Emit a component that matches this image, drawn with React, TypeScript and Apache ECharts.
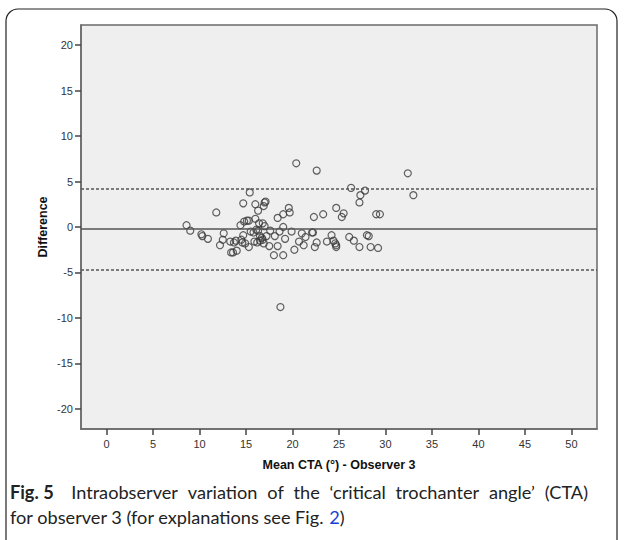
import React, { useEffect, useRef } from "react";
import * as echarts from "echarts";

// Mean CTA (°) for observer 3 (x) and difference between readings (y)
const meanCTA = [
  8.6, 9.0, 10.2, 10.3, 10.9, 11.8, 12.2, 12.5, 12.6, 13.3, 13.4, 13.6, 13.7, 13.9, 14.0,
  14.4, 14.5, 14.6, 14.7, 14.7, 14.8, 14.9, 15.1, 15.3, 15.3, 15.4, 15.5, 15.8, 15.9, 16.0,
  16.0, 16.1, 16.2, 16.3, 16.3, 16.4, 16.5, 16.5, 16.7, 16.8, 16.8, 16.9, 16.9, 17.0, 17.1,
  17.0, 17.2, 17.5, 17.6, 18.0, 18.1, 18.4, 18.4, 18.6, 18.7, 19.0, 19.0, 19.0, 19.2, 19.6,
  19.7, 19.9, 20.2, 20.4, 20.7, 21.0, 21.2, 21.4, 22.1, 22.2, 22.3, 22.4, 22.6, 22.6, 23.3,
  23.7, 24.2, 24.4, 24.6, 24.7, 24.7, 24.7, 25.3, 25.5, 26.1, 26.3, 26.6, 27.2, 27.2, 27.3,
  27.8, 28.0, 28.2, 28.4, 29.0, 29.2, 29.4, 32.4, 33.0,
];
const difference = [
  0.2, -0.4, -0.8, -1.0, -1.3, 1.6, -2.0, -1.4, -0.7, -1.6, -2.8, -2.8, -1.7, -1.5, -2.6,
  0.2, -1.4, -1.7, 2.6, -0.9, 0.6, -1.8, 0.7, 0.7, -2.2, 3.8, -0.5, -0.6, -1.6, 2.5,
  0.9, -0.3, -1.7, 1.8, -0.4, 0.4, -1.0, -1.5, -1.2, 0.4, -1.4, 2.3, -1.8, 2.7, 2.8,
  0.1, -1.0, -2.1, -0.4, -3.1, -1.0, 1.0, -2.1, -0.5, -8.8, -3.1, 1.4, 0.0, -1.3, 2.1,
  1.6, -0.5, -2.5, 7.0, -1.6, -0.7, -2.0, -1.1, -0.6, -0.6, 1.1, -2.2, 6.2, -1.7, 1.4,
  -1.6, -0.9, -1.5, -1.8, -2.0, -2.2, 2.1, 1.1, 1.5, -1.1, 4.3, -1.5, 2.7, -2.2, 3.5,
  4.0, -0.9, -1.0, -2.2, 1.4, -2.3, 1.4, 5.9, 3.5,
];

const xTickValues = [0, 5, 10, 15, 20, 25, 30, 35, 40, 45, 50];
const yTickValues = [-20, -15, -10, -5, 0, 5, 10, 15, 20];

const meanDifference = -0.22;
const upperLimit = 4.2;
const lowerLimit = -4.65;

const xTitle = "Mean CTA (°) - Observer 3";
const yTitle = "Difference";
const captionLabel = "Fig. 5";
const captionWords1 = ["Intraobserver", "variation", "of", "the", "‘critical", "trochanter", "angle’", "(CTA)"];
const captionLine2Plain = "for observer 3 (for explanations see Fig. 2)";
const captionLine2 = "for observer 3 (for explanations see Fig. {l|2})";

export default function App() {
  const ref = useRef<HTMLDivElement>(null);

  useEffect(() => {
    document.body.style.margin = "0";
    const chart = echarts.init(ref.current as HTMLDivElement, null, { renderer: "svg" });
    const points = meanCTA.map((x, i) => [x, difference[i]]);
    const axisFont = "Liberation Sans, Arial, sans-serif";
    const captionFont = "Lato, 'Open Sans', sans-serif";

    const canvas = document.createElement("canvas");
    const ctx = canvas.getContext("2d") as CanvasRenderingContext2D;
    // fit caption size so that the second line ends where the reference does
    ctx.font = `17px ${captionFont}`;
    const l2w = ctx.measureText(captionLine2Plain).width;
    const lineStart = 10;
    const capSize = Math.min(20, Math.max(15, (17 * 335) / l2w));
    const regFont = `${capSize}px ${captionFont}`;
    const boldFont = `bold ${capSize}px ${captionFont}`;

    ctx.font = boldFont;
    const labelW = ctx.measureText(captionLabel).width;
    ctx.font = regFont;
    const wordW = captionWords1.map((w) => ctx.measureText(w).width);
    const spaceW = ctx.measureText(" ").width;
    const lineEnd = 588;
    const extraFirstGap = spaceW + 3;
    const totalW = labelW + wordW.reduce((a, b) => a + b, 0);
    const gap = Math.max(spaceW, (lineEnd - lineStart - totalW - extraFirstGap) / captionWords1.length);
    const wordTexts: any[] = [
      {
        type: "text",
        x: lineStart,
        y: 492,
        style: { text: captionLabel, font: boldFont, fill: "#222", verticalAlign: "middle" },
      },
    ];
    let cx = lineStart + labelW + gap + extraFirstGap;
    captionWords1.forEach((w, i) => {
      wordTexts.push({
        type: "text",
        x: cx,
        y: 492,
        style: { text: w, font: regFont, fill: "#222", verticalAlign: "middle" },
      });
      cx += wordW[i] + gap;
    });

    chart.setOption({
      animation: false,
      backgroundColor: "#ffffff",
      grid: {
        left: 81,
        top: 25,
        width: 516,
        height: 404,
        show: true,
        backgroundColor: "#efefef",
        borderColor: "#6a6a6a",
        borderWidth: 1.5,
        containLabel: false,
      },
      xAxis: {
        type: "value",
        min: -2.75,
        max: 52.75,
        axisLine: { show: true, onZero: false, lineStyle: { color: "#6a6a6a", width: 1.5 } },
        axisTick: {
          show: true,
          customValues: xTickValues,
          length: 6,
          lineStyle: { color: "#444", width: 1.5 },
        },
        axisLabel: {
          customValues: xTickValues,
          fontSize: 11,
          color: "#333",
          fontFamily: axisFont,
          margin: 9,
        },
        splitLine: { show: false },
      },
      yAxis: {
        type: "value",
        min: -22.2,
        max: 22.2,
        axisLine: { show: true, onZero: false, lineStyle: { color: "#6a6a6a", width: 1.5 } },
        axisTick: {
          show: true,
          customValues: yTickValues,
          length: 6,
          lineStyle: { color: "#444", width: 1.5 },
        },
        axisLabel: {
          customValues: yTickValues,
          fontSize: 11,
          color: "#333",
          fontFamily: axisFont,
          margin: 8,
        },
        splitLine: { show: false },
      },
      series: [
        {
          type: "scatter",
          data: points,
          symbol: "circle",
          symbolSize: 7,
          itemStyle: { color: "rgba(0,0,0,0)", borderColor: "#3a3a3a", borderWidth: 1.2 },
          markLine: {
            silent: true,
            symbol: ["none", "none"],
            label: { show: false },
            data: [
              { yAxis: meanDifference, lineStyle: { type: "solid", color: "#555", width: 1.5 } },
              { yAxis: upperLimit, lineStyle: { type: [3, 2], color: "#555", width: 1.5 } },
              { yAxis: lowerLimit, lineStyle: { type: [3, 2], color: "#555", width: 1.5 } },
            ],
          },
        },
      ],
      graphic: [
        {
          type: "rect",
          shape: { x: 6, y: 9, width: 611, height: 560, r: 12 },
          style: { fill: "none", stroke: "#222", lineWidth: 1.2 },
          silent: true,
        },
        {
          type: "text",
          x: 339,
          y: 465,
          style: {
            text: xTitle,
            font: `bold 12.5px ${axisFont}`,
            fill: "#111",
            align: "center",
            verticalAlign: "middle",
          },
        },
        {
          type: "text",
          x: 43,
          y: 227,
          rotation: Math.PI / 2,
          style: {
            text: yTitle,
            font: `bold 12.5px ${axisFont}`,
            fill: "#111",
            align: "center",
            verticalAlign: "middle",
          },
        },
        ...wordTexts,
        {
          type: "text",
          x: lineStart,
          y: 517,
          style: {
            text: captionLine2,
            font: regFont,
            fill: "#222",
            verticalAlign: "middle",
            rich: {
              l: { font: regFont, fill: "#1a3fd6" },
            },
          },
        },
      ],
    });
    return () => chart.dispose();
  }, []);

  return <div ref={ref} style={{ width: 624, height: 540 }} />;
}
